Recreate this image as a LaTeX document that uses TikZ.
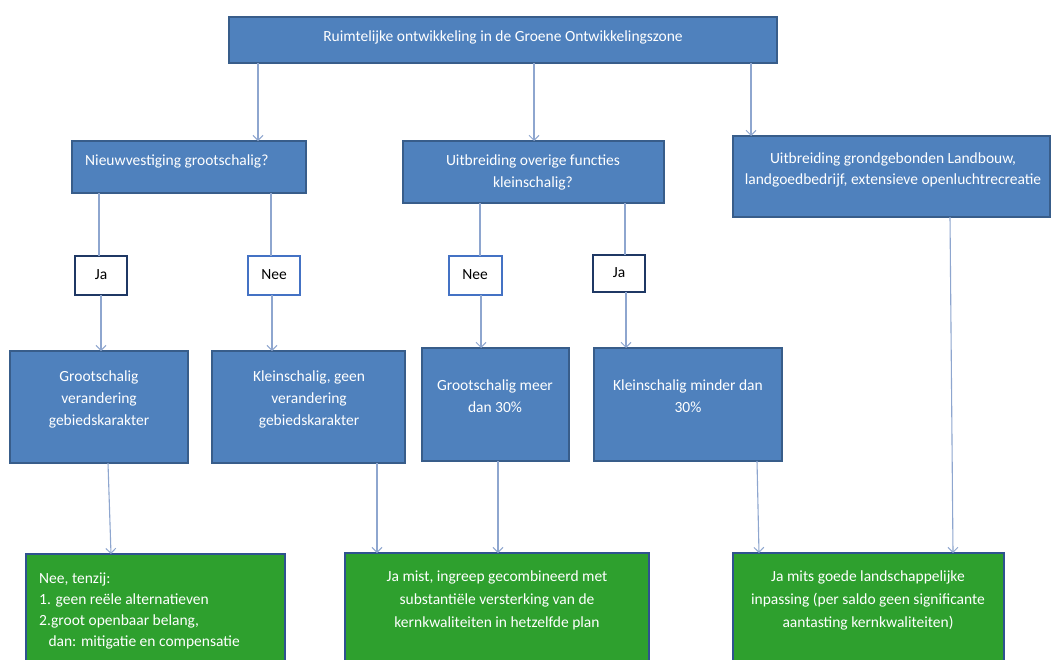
\documentclass[tikz,border=0pt]{standalone}
\usepackage{fontspec}
\setmainfont{Carlito}
\usetikzlibrary{arrows.meta}
\definecolor{bfill}{HTML}{4F81BD}
\definecolor{bdraw}{HTML}{385D8A}
\definecolor{gfill}{HTML}{2EA02E}
\definecolor{gdraw}{HTML}{2F528F}
\definecolor{navy}{HTML}{1F3864}
\definecolor{midblue}{HTML}{4472C4}
\definecolor{conn}{HTML}{8EA6CF}
\tikzset{
  box/.style={rectangle, anchor=north west, inner sep=0pt, outer sep=0pt},
  bluebox/.style={box, fill=bfill, draw=bdraw, line width=1.6pt},
  greenbox/.style={box, fill=gfill, draw=gdraw, line width=1.6pt},
  jabox/.style={box, fill=white, draw=navy, line width=2.6pt},
  neebox/.style={box, fill=white, draw=midblue, line width=2.6pt},
  wt/.style={text=white, inner sep=0pt, font=\fontsize{15.5}{22}\selectfont, align=center},
  bt/.style={text=black, inner sep=0pt, font=\fontsize{15.5}{22}\selectfont},
  line/.style={draw=conn, line width=1.1pt},
  arr/.style={line, -{Straight Barb[length=5pt,width=10pt,line width=1pt]}},
}
\begin{document}
\begin{tikzpicture}[x=1pt,y=-1pt]
\useasboundingbox[fill=white] (0,0) rectangle (1054,659);
% boxes
\node[bluebox, minimum width=548pt, minimum height=46pt] (top) at (229,17) {};
\node[bluebox, minimum width=234pt, minimum height=52pt] (nieuw) at (72,141) {};
\node[bluebox, minimum width=261pt, minimum height=62pt] (uitbr) at (403,141) {};
\node[bluebox, minimum width=317pt, minimum height=81pt] (landb) at (733,136) {};
\node[jabox, minimum width=52pt, minimum height=39pt] (ja1) at (75,256) {};
\node[neebox, minimum width=52pt, minimum height=39pt] (nee1) at (248,256) {};
\node[neebox, minimum width=53pt, minimum height=39pt] (nee2) at (449,256) {};
\node[jabox, minimum width=52pt, minimum height=37pt] (ja2) at (593,255) {};
\node[bluebox, minimum width=178pt, minimum height=112pt] (groot1) at (10,351) {};
\node[bluebox, minimum width=193pt, minimum height=112pt] (klein1) at (212,351) {};
\node[bluebox, minimum width=147pt, minimum height=113pt] (groot2) at (422,348) {};
\node[bluebox, minimum width=188pt, minimum height=113pt] (klein2) at (594,348) {};
\node[greenbox, minimum width=259pt, minimum height=120pt] (green1) at (26,554) {};
\node[greenbox, minimum width=304pt, minimum height=120pt] (green2) at (345,553) {};
\node[greenbox, minimum width=271pt, minimum height=120pt] (green3) at (733,553) {};
% texts
\node[wt] (ttop) at (503,37) {Ruimtelijke ontwikkeling in de Groene Ontwikkelingszone};
\node[wt, anchor=west] (tnieuw) at (85,161) {Nieuwvestiging grootschalig?};
\node[wt] (tuitbr) at (533,172) {Uitbreiding overige functies\\kleinschalig?};
\node[wt, font=\fontsize{15.5}{21}\selectfont] (tlandb) at (893,170) {Uitbreiding grondgebonden Landbouw,\\landgoedbedrijf, extensieve openluchtrecreatie};
\node[bt] (tja1) at (101,275) {Ja};
\node[bt] (tnee1) at (274,275) {Nee};
\node[bt] (tnee2) at (475,275) {Nee};
\node[bt] (tja2) at (619,273) {Ja};
\node[wt] (tgroot1) at (99,399) {Grootschalig\\verandering\\gebiedskarakter};
\node[wt] (tklein1) at (309,399) {Kleinschalig, geen\\verandering\\gebiedskarakter};
\node[wt] (tgroot2) at (495,396) {Grootschalig meer\\dan 30\%};
\node[wt] (tklein2) at (688,396) {Kleinschalig minder dan\\30\%};
\node[wt, align=left, anchor=west, font=\fontsize{15.5}{21}\selectfont] (tgreen1) at (39,611) {Nee, tenzij:\\1. geen reële alternatieven\\2.groot openbaar belang,\\\hspace*{0.6em}dan: mitigatie en compensatie};
\node[wt, font=\fontsize{15.5}{23}\selectfont] (tgreen2) at (497,600) {Ja mist, ingreep gecombineerd met\\substantiële versterking van de\\kernkwaliteiten in hetzelfde plan};
\node[wt, font=\fontsize{15.5}{23}\selectfont] (tgreen3) at (868,600) {Ja mits goede landschappelijke\\inpassing (per saldo geen significante\\aantasting kernkwaliteiten)};
% connectors
\draw[arr] ([xshift=29pt]top.south west) -- ([xshift=186pt]nieuw.north west);
\draw[arr] ([xshift=305pt]top.south west) -- ([xshift=131pt]uitbr.north west);
\draw[arr] ([xshift=522pt]top.south west) -- ([xshift=18pt]landb.north west);
\draw[line] ([xshift=27pt]nieuw.south west) -- ([xshift=24pt]ja1.north west);
\draw[line] ([xshift=199pt]nieuw.south west) -- ([xshift=23pt]nee1.north west);
\draw[line] ([xshift=77pt]uitbr.south west) -- ([xshift=31pt]nee2.north west);
\draw[line] ([xshift=222pt]uitbr.south west) -- ([xshift=32pt]ja2.north west);
\draw[arr] ([xshift=26pt]ja1.south west) -- ([xshift=91pt]groot1.north west);
\draw[arr] ([xshift=24pt]nee1.south west) -- ([xshift=60pt]klein1.north west);
\draw[arr] ([xshift=32pt]nee2.south west) -- ([xshift=59pt]groot2.north west);
\draw[arr] ([xshift=33pt]ja2.south west) -- ([xshift=32pt]klein2.north west);
\draw[arr] ([xshift=98pt]groot1.south west) -- ([xshift=85pt]green1.north west);
\draw[arr] ([xshift=165pt]klein1.south west) -- ([xshift=32pt]green2.north west);
\draw[arr] ([xshift=76pt]groot2.south west) -- ([xshift=153pt]green2.north west);
\draw[arr] ([xshift=163pt]klein2.south west) -- ([xshift=26pt]green3.north west);
\draw[arr] ([xshift=217pt]landb.south west) -- ([xshift=220pt]green3.north west);
\end{tikzpicture}
\end{document}
